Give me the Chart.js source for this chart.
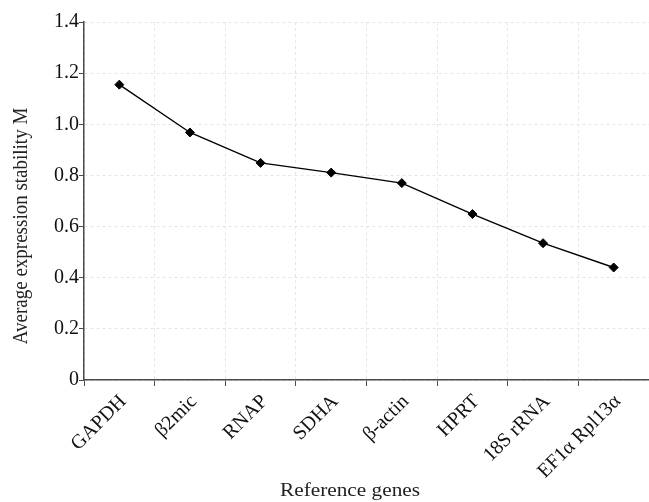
<!DOCTYPE html>
<html>
<head>
<meta charset="utf-8">
<script src="https://cdn.jsdelivr.net/npm/chart.js@4/dist/chart.umd.min.js"></script>
<style>
    html, body { margin: 0; padding: 0; background: #fff; }
    #wrap { width: 649px; height: 502px; position: relative; }
</style>
</head>
<body>
<div id="wrap"><canvas id="stabilityChart"></canvas></div>
<script>
    const genes = ['GAPDH', 'β2mic', 'RNAP', 'SDHA', 'β-actin', 'HPRT', '18S rRNA', 'EF1α Rpl13α'];
    const stabilityM = [1.155, 0.968, 0.849, 0.811, 0.770, 0.649, 0.535, 0.440];
    const yTicks = [0, 0.2, 0.4, 0.6, 0.8, 1.0, 1.2, 1.4];

    const serif = '"Liberation Serif", "DejaVu Serif", serif';
    const axisColor = '#4a4a4a';
    const gridColor = '#e6e6e6';

    // axis titles placed where the reference has them (text is a bit wide there)
    const axisTitles = {
        id: 'axisTitles',
        afterDraw(chart) {
            const ctx = chart.ctx;
            ctx.save();
            ctx.fillStyle = '#222';
            ctx.font = '19px ' + serif;
            ctx.textAlign = 'center';
            ctx.textBaseline = 'middle';
            ctx.save();
            ctx.translate(350, 491);
            ctx.scale(1.12, 1);
            ctx.fillText('Reference genes', 0, 0);
            ctx.restore();
            ctx.translate(21, 226);
            ctx.scale(1.12, 1);
            ctx.rotate(-Math.PI / 2);
            ctx.fillText('Average expression stability M', 0, 0);
            ctx.restore();
        }
    };

    new Chart(document.getElementById('stabilityChart'), {
        type: 'line',
        data: {
            labels: genes,
            datasets: [
                {
                    data: stabilityM,
                    borderColor: '#000',
                    borderWidth: 1.4,
                    tension: 0,
                    pointStyle: 'rectRot',
                    pointRadius: 4.5,
                    pointBackgroundColor: '#000',
                    pointBorderColor: '#000',
                    pointBorderWidth: 1
                }
            ]
        },
        options: {
            responsive: true,
            maintainAspectRatio: false,
            animation: false,
            layout: { autoPadding: false, padding: { top: 22, right: 0, left: 0, bottom: 0 } },
            plugins: {
                legend: { display: false },
                tooltip: { enabled: false }
            },
            scales: {
                x: {
                    offset: true,
                    afterFit(scale) {
                        scale.height = 122;
                        scale.paddingLeft = 0;
                        scale.paddingRight = 0;
                    },
                    grid: {
                        offset: true,
                        color: gridColor,
                        tickColor: axisColor,
                        tickLength: 6,
                        tickBorderDash: []
                    },
                    border: { color: axisColor, width: 1.5, dash: [3, 3] },
                    ticks: {
                        color: '#111',
                        font: { family: serif, size: 20 },
                        minRotation: 45,
                        maxRotation: 45,
                        labelOffset: 4,
                        padding: 4
                    }
                },
                y: {
                    min: 0,
                    max: 1.4,
                    afterFit(scale) { scale.width = 84; },
                    afterBuildTicks(scale) {
                        scale.ticks = yTicks.map(v => ({ value: v }));
                    },
                    grid: {
                        color: gridColor,
                        tickColor: axisColor,
                        tickLength: 5,
                        tickBorderDash: []
                    },
                    border: { color: axisColor, width: 1.5, dash: [3, 3] },
                    ticks: {
                        color: '#111',
                        font: { family: serif, size: 20 },
                        padding: 0,
                        callback: v => (v === 0 ? '0' : v.toFixed(1))
                    }
                }
            }
        },
        plugins: [axisTitles]
    });
</script>
</body>
</html>
